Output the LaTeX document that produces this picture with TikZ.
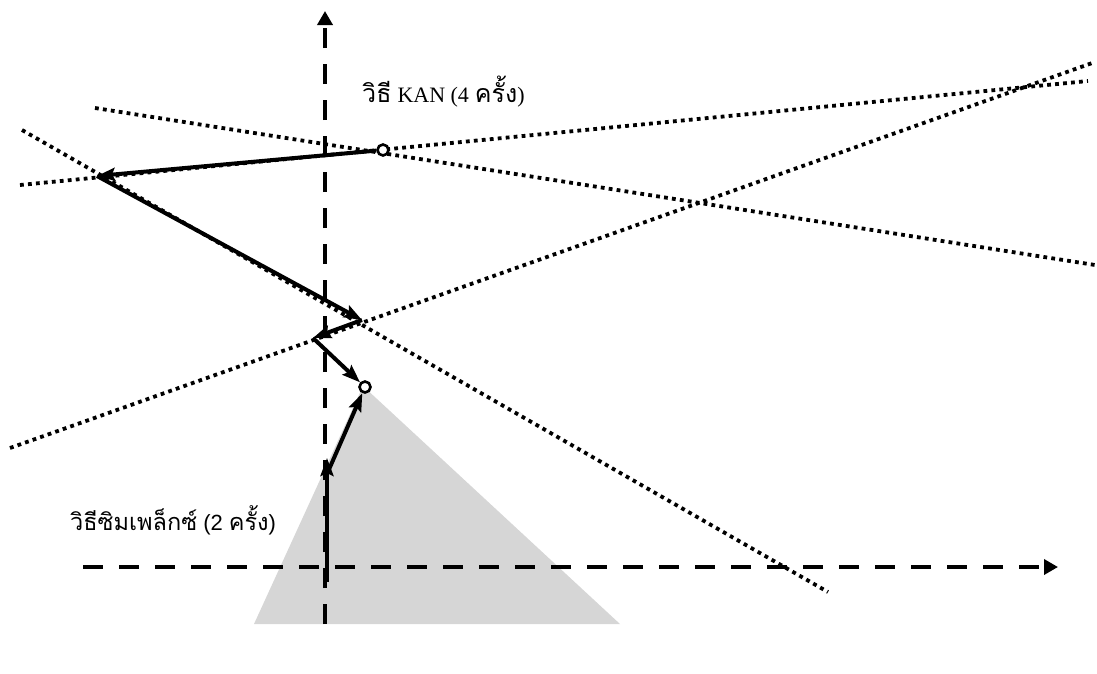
\documentclass[tikz,border=0pt]{standalone}
\usepackage{fontspec}
\usetikzlibrary{arrows.meta}
\newfontfamily\thai[Script=Thai]{Loma}
\newfontfamily\tms{Liberation Serif}
\newfontfamily\ars{Liberation Sans}
\begin{document}
\begin{tikzpicture}[x=1pt,y=-1pt,
  axisline/.style={line width=4.4pt,dash pattern=on 20pt off 16pt,-{Triangle[length=14pt,width=15pt]}},
  dotline/.style={line width=3.8pt,dash pattern=on 3.8pt off 4.2pt},
  movearrow/.style={line width=4pt,-{Stealth[length=18pt,width=13pt,inset=3pt]}},
  pt/.style={circle,draw,line width=2.6pt,fill=white,minimum size=11pt,inner sep=0pt},
  lbl/.style={anchor=base west,inner sep=0pt}]
\useasboundingbox (0,0) rectangle (1097,673);
% feasible region
\fill[black!16] (363,386) -- (620,624) -- (254,624) -- cycle;
% dotted constraint lines
\draw[dotline] (95,108) -- (1095,265);
\draw[dotline] (20,185) -- (1088,81);
\draw[dotline] (22,130) -- (828,592);
\draw[dotline] (10,448) -- (1095,62);
% axes
\coordinate (xs) at (83,567);
\coordinate (xe) at (1058,567);
\coordinate (ye) at (325,624);
\coordinate (ys) at (325,11);
\draw[axisline] (xs) -- (xe);
\draw[axisline] (ye) -- (ys);
% points
\node[pt] (K0) at (383,150) {};
\coordinate (K1) at (97,176);
\coordinate (K2) at (362,320);
\coordinate (K3) at (313,338);
\node[pt] (K4) at (365,387) {};
\coordinate (S0) at (327,582);
\coordinate (S1) at (327,458);
\coordinate (S1b) at (327,474);
% KAN path
\draw[movearrow] (K0) -- (K1);
\draw[movearrow] (K1) -- (K2);
\draw[movearrow] (K2) -- (K3);
\draw[movearrow] (K3) -- (K4);
% simplex path
\draw[movearrow] (S0) -- (S1);
\draw[movearrow] (S1b) -- (K4);
% labels
\node[lbl] (L1) at (362,102) {{\thai\fontsize{25}{28}\selectfont วิธี}\hspace{6pt}{\tms\fontsize{22}{26}\selectfont KAN (4}\hspace{6pt}{\thai\fontsize{25}{28}\selectfont ครั้ง}{\tms\fontsize{22}{26}\selectfont )}};
\node[lbl] (L2) at (70,530) {{\thai\fontsize{23.5}{27}\selectfont วิธีซิมเพล็กซ์}\hspace{6pt}{\ars\fontsize{22}{26}\selectfont (2}\hspace{6pt}{\thai\fontsize{23.5}{27}\selectfont ครั้ง}{\ars\fontsize{22}{26}\selectfont )}};
\end{tikzpicture}
\end{document}
